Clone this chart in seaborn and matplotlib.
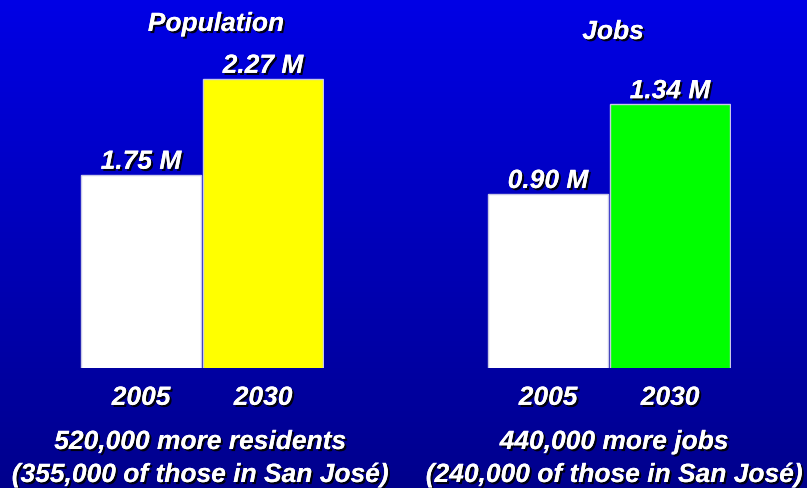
import numpy as np
import matplotlib
matplotlib.use("Agg")
import matplotlib.pyplot as plt
import matplotlib.patheffects as pe
import seaborn as sns
import pandas as pd

years = ["2005", "2030"]
population = [1.75, 2.27]
jobs = [0.90, 1.34]
pop_labels = ["1.75 M", "2.27 M"]
job_labels = ["0.90 M", "1.34 M"]
pop_colors = ["#ffffff", "#ffff00"]
job_colors = ["#ffffff", "#00ff00"]
titles = ["Population", "Jobs"]
notes = [["520,000 more residents", "(355,000 of those in San José)"],
         ["440,000 more jobs", "(240,000 of those in San José)"]]

sns.set_theme(style="white")
plt.rcParams['font.family'] = ['Liberation Sans', 'DejaVu Sans']

W, H = 807, 489
fig = plt.figure(figsize=(W / 100, H / 100), dpi=100)

# gradient background
bg = fig.add_axes([0, 0, 1, 1], zorder=0)
grad = np.linspace(0, 1, 256).reshape(-1, 1)
top = np.array([0, 0, 230]) / 255
bot = np.array([0, 0, 140]) / 255
img = top[None, None, :] * (1 - grad[:, :, None]) + bot[None, None, :] * grad[:, :, None]
bg.imshow(img, aspect='auto', extent=[0, 1, 0, 1], origin='upper')
bg.set_axis_off()

shadow = [pe.withSimplePatchShadow(offset=(1.5, -1.5), shadow_rgbFace='black', alpha=0.9), pe.Normal()]
tkw = dict(color='white', fontweight='bold', fontstyle='italic', path_effects=shadow,
           ha='center', va='center')
FS = 19


def fx(px):
    return px / W


def fy(py):
    return 1 - py / H


base_y = 369
axes_top = 40
height_px = base_y - axes_top

panels = [
    dict(left=80, vals=population, labels=pop_labels, colors=pop_colors, ymin=0.704, scale=184.5,
         title=titles[0], title_xy=(216, 25), notes=notes[0], note_x=200),
    dict(left=487, vals=jobs, labels=job_labels, colors=job_colors, ymin=0.048, scale=204.0,
         title=titles[1], title_xy=(613, 33), notes=notes[1], note_x=614),
]

for p in panels:
    ax = fig.add_axes([fx(p['left']), fy(base_y), fx(244), height_px / H], zorder=2)
    df = pd.DataFrame({"year": years, "value": p['vals']})
    sns.barplot(data=df, x="year", y="value", hue="year", palette=p['colors'], legend=False,
                ax=ax, width=0.985, edgecolor='#c8c8e8', linewidth=1.0, saturation=1)
    ax.set_xlim(-0.5, 1.5)
    ax.set_ylim(p['ymin'], p['ymin'] + height_px / p['scale'])
    ax.set_axis_off()
    ax.patch.set_alpha(0)
    for i, (v, lab) in enumerate(zip(p['vals'], p['labels'])):
        ax.annotate(lab, (i, v), xytext=(0, 9.5), textcoords='offset points', fontsize=FS, **tkw)
        ax.annotate(years[i], (i, p['ymin']), xytext=(0, -21.5), textcoords='offset points',
                    fontsize=FS, **tkw)
    fig.text(fx(p['title_xy'][0]), fy(p['title_xy'][1]), p['title'], fontsize=FS, **tkw)
    fig.text(fx(p['note_x']), fy(443), p['notes'][0], fontsize=FS, **tkw)
    fig.text(fx(p['note_x']), fy(476), p['notes'][1], fontsize=FS, **tkw)

fig.savefig("out.png", dpi=100)
